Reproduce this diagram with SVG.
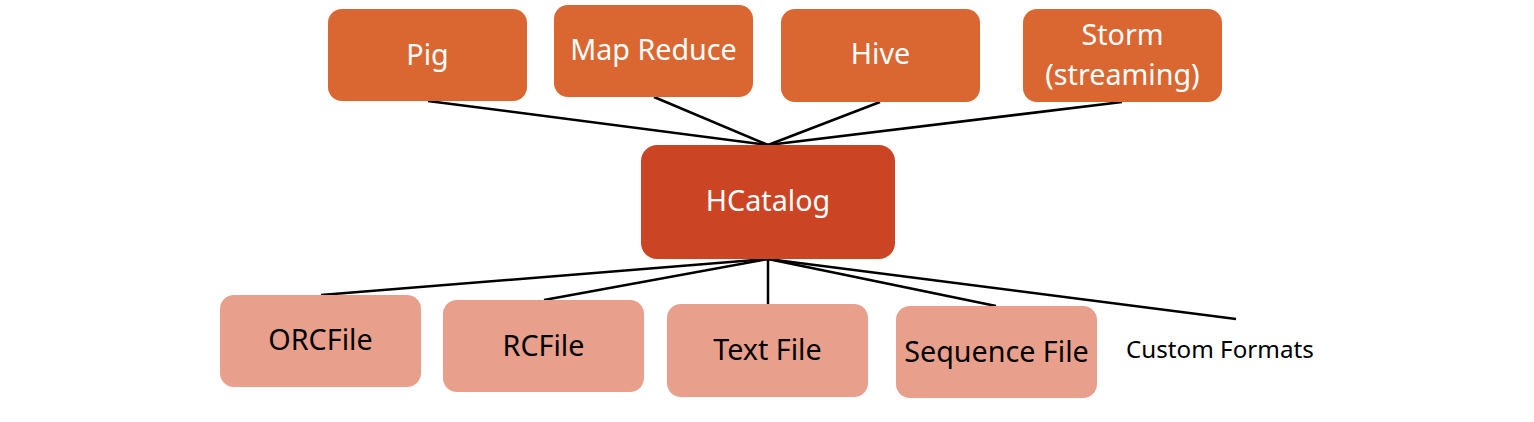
<svg xmlns="http://www.w3.org/2000/svg" width="1534" height="422" viewBox="0 0 1534 422">
<style>
.top{fill:#DA6731}
.hc{fill:#CB4524}
.bot{fill:#E8A08C}
.wt{fill:#FFFFFF;font-family:"Noto Sans","Open Sans",sans-serif;font-size:28.7px;text-anchor:middle}
.bt{fill:#000000;font-family:"Noto Sans","Open Sans",sans-serif;font-size:28.7px;text-anchor:middle}
.ct{fill:#000000;font-family:"Noto Sans","Open Sans",sans-serif;font-size:24.2px}
.ln{stroke:#000000;stroke-width:2.5;fill:none}
</style>
<rect width="1534" height="422" fill="#FFFFFF"/>
<g id="connectors">
<line class="ln" x1="428" y1="101" x2="768" y2="145"/>
<line class="ln" x1="654" y1="97" x2="768" y2="145"/>
<line class="ln" x1="880" y1="102" x2="768" y2="145"/>
<line class="ln" x1="1122" y1="102" x2="768" y2="145"/>
<line class="ln" x1="768" y1="259" x2="321" y2="295"/>
<line class="ln" x1="768" y1="259" x2="544" y2="300"/>
<line class="ln" x1="768" y1="259" x2="768" y2="304"/>
<line class="ln" x1="768" y1="259" x2="996" y2="306"/>
<line class="ln" x1="768" y1="259" x2="1236" y2="319"/>
</g>
<g id="pig"><rect class="top" x="328" y="9" width="199" height="92" rx="14"/><text class="wt" x="427.5" y="65">Pig</text></g>
<g id="mapreduce"><rect class="top" x="554" y="5" width="199" height="92" rx="14"/><text class="wt" x="653.5" y="60">Map Reduce</text></g>
<g id="hive"><rect class="top" x="781" y="9" width="199" height="93" rx="14"/><text class="wt" x="880.5" y="64">Hive</text></g>
<g id="storm"><rect class="top" x="1023" y="9" width="199" height="93" rx="14"/><text class="wt" x="1122.5" y="45">Storm</text><text class="wt" x="1122.5" y="85">(streaming)</text></g>
<g id="hcatalog"><rect class="hc" x="641" y="145" width="254" height="114" rx="16"/><text class="wt" x="768" y="211">HCatalog</text></g>
<g id="orcfile"><rect class="bot" x="220" y="295" width="201" height="92" rx="14"/><text class="bt" x="320.5" y="350">ORCFile</text></g>
<g id="rcfile"><rect class="bot" x="443" y="300" width="201" height="92" rx="14"/><text class="bt" x="543.5" y="356">RCFile</text></g>
<g id="textfile"><rect class="bot" x="667" y="304" width="201" height="93" rx="14"/><text class="bt" x="767.5" y="360">Text File</text></g>
<g id="sequencefile"><rect class="bot" x="896" y="306" width="201" height="92" rx="14"/><text class="bt" x="996.5" y="362">Sequence File</text></g>
<g id="customformats"><text class="ct" x="1126" y="358">Custom Formats</text></g>
</svg>
